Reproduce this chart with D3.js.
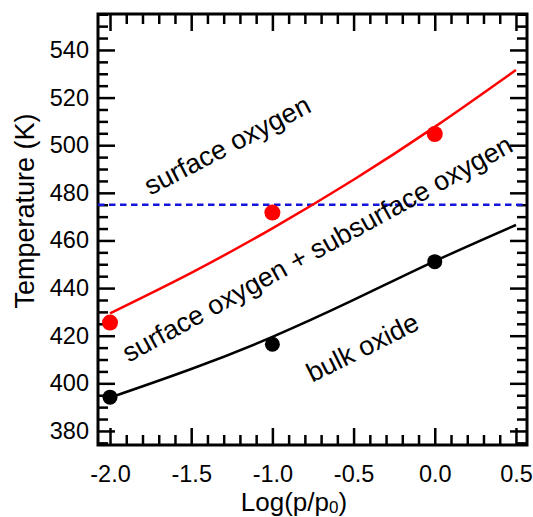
<!DOCTYPE html>
<html>
<head>
<meta charset="utf-8">
<script src="https://cdn.jsdelivr.net/npm/d3@7"></script>
<style>
  body { margin: 0; background: #fff; }
  svg { display: block; font-family: "Liberation Sans", Arial, Helvetica, sans-serif; }
</style>
</head>
<body>
<svg id="chart" width="533" height="517"></svg>
<script>
// measured points
const logP = [-2.0, -1.0, 0.0];
const surfaceT = [425.5, 471.7, 504.7];
const bulkT = [394.2, 416.4, 451.1];

// fitted curves, read at 0.5 steps
const curveX = [-2.0, -1.5, -1.0, -0.5, 0.0, 0.5];
const surfaceCurve = [429.4, 446.4, 465.1, 485.5, 507.7, 531.6];
const bulkCurve = [394.0, 406.0, 419.5, 435.0, 451.3, 466.5];

const dashedT = 475;

const xTicks = [-2.0, -1.5, -1.0, -0.5, 0.0, 0.5];
const yTicks = [380, 400, 420, 440, 460, 480, 500, 520, 540];

const regionLabels = [
  { text: "surface oxygen", x: -1.752, y: 478.8, angle: -27.5 },
  { text: "surface oxygen + subsurface oxygen", x: -1.885, y: 408.6, angle: -28.8 },
  { text: "bulk oxide", x: -0.755, y: 400.2, angle: -26.5 },
];

const svg = d3.select("#chart"),
  margin = { top: 14, right: 6, bottom: 72, left: 98 },
  width = +svg.attr("width") - margin.left - margin.right,
  height = +svg.attr("height") - margin.top - margin.bottom;

const chart = svg
  .append("g")
  .attr("transform", `translate(${margin.left},${margin.top})`);

const x = d3.scaleLinear().domain([-2.074, 0.568]).range([0, width]);
const y = d3.scaleLinear().domain([374.1, 555.1]).range([height, 0]);

const xMinor = d3.range(-20, 6).map((d) => d / 10).filter((d) => !xTicks.some((t) => Math.abs(t - d) < 1e-9));
const yMinor = d3.range(375, 556, 5).filter((d) => d % 20 !== 0);

const major = 17, minor = 10;

function drawAxis(axisFn, scale, ticks, size, transform, labels, padding) {
  const g = chart
    .append("g")
    .attr("transform", transform)
    .call(
      axisFn(scale)
        .tickValues(ticks)
        .tickSizeInner(-size)
        .tickSizeOuter(0)
        .tickPadding(padding)
        .tickFormat(labels ? (d) => (axisFn === d3.axisBottom ? d3.format(".1f")(d).replace("−", "-") : d) : "")
    );
  g.select(".domain").remove();
  g.selectAll(".tick line").attr("stroke", "#000").attr("stroke-width", 2.5);
  g.selectAll(".tick text").attr("fill", "#000").style("font-size", "23.5px");
  return g;
}

// bottom / top
drawAxis(d3.axisBottom, x, xTicks, major, `translate(0,${height})`, true, 20);
drawAxis(d3.axisBottom, x, xMinor, minor, `translate(0,${height})`, false, 0);
drawAxis(d3.axisTop, x, xTicks, major, `translate(0,0)`, false, 0);
drawAxis(d3.axisTop, x, xMinor, minor, `translate(0,0)`, false, 0);
// left / right
drawAxis(d3.axisLeft, y, yTicks, major, `translate(0,0)`, true, 9);
drawAxis(d3.axisLeft, y, yMinor, minor, `translate(0,0)`, false, 0);
drawAxis(d3.axisRight, y, yTicks, major, `translate(${width},0)`, false, 0);
drawAxis(d3.axisRight, y, yMinor, minor, `translate(${width},0)`, false, 0);

// frame
chart
  .append("rect")
  .attr("width", width)
  .attr("height", height)
  .attr("fill", "none")
  .attr("stroke", "#000")
  .attr("stroke-width", 3);

// dashed line
chart
  .append("line")
  .attr("x1", 0)
  .attr("x2", width)
  .attr("y1", y(dashedT))
  .attr("y2", y(dashedT))
  .attr("stroke", "#1414dc")
  .attr("stroke-width", 2.5)
  .attr("stroke-dasharray", "6.5,4.5");

const line = d3
  .line()
  .curve(d3.curveNatural)
  .x((d) => x(d[0]))
  .y((d) => y(d[1]));

chart
  .append("path")
  .datum(d3.zip(curveX, surfaceCurve))
  .attr("fill", "none")
  .attr("stroke", "#ff0000")
  .attr("stroke-width", 2.5)
  .attr("d", line);

chart
  .append("path")
  .datum(d3.zip(curveX, bulkCurve))
  .attr("fill", "none")
  .attr("stroke", "#000")
  .attr("stroke-width", 2.5)
  .attr("d", line);

chart
  .selectAll("circle.surface")
  .data(d3.zip(logP, surfaceT))
  .join("circle")
  .attr("class", "surface")
  .attr("cx", (d) => x(d[0]))
  .attr("cy", (d) => y(d[1]))
  .attr("r", 8)
  .attr("fill", "#ff0000");

chart
  .selectAll("circle.bulk")
  .data(d3.zip(logP, bulkT))
  .join("circle")
  .attr("class", "bulk")
  .attr("cx", (d) => x(d[0]))
  .attr("cy", (d) => y(d[1]))
  .attr("r", 7.5)
  .attr("fill", "#000");

// region labels
chart
  .selectAll("text.region")
  .data(regionLabels)
  .join("text")
  .attr("class", "region")
  .attr("transform", (d) => `translate(${x(d.x)},${y(d.y)}) rotate(${d.angle})`)
  .style("font-size", "27px")
  .text((d) => d.text);

// axis titles
chart
  .append("text")
  .attr("transform", `rotate(-90)`)
  .attr("x", -(211 - margin.top))
  .attr("y", 34 - margin.left)
  .attr("text-anchor", "middle")
  .style("font-size", "27px")
  .text("Temperature (K)");

const xt = chart
  .append("text")
  .attr("x", 294 - margin.left)
  .attr("y", 511 - margin.top)
  .attr("text-anchor", "middle")
  .style("font-size", "26px");
xt.append("tspan").text("Log(p/p");
xt.append("tspan").attr("dy", 2).style("font-size", "17px").text("0");
xt.append("tspan").attr("dy", -2).text(")");
</script>
</body>
</html>
